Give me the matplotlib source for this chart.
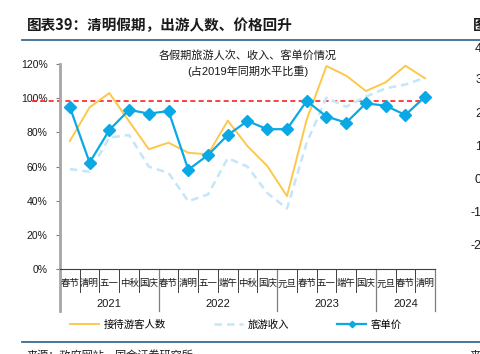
import numpy as np
import matplotlib
matplotlib.use('Agg')
import matplotlib.pyplot as plt
from matplotlib.lines import Line2D

plt.rcParams['font.family'] = ['Liberation Sans', 'Noto Sans CJK SC', 'DejaVu Sans']

# data (share of the same holiday in 2019)
holidays = ['春节', '清明', '五一', '中秋', '国庆',
            '春节', '清明', '五一', '端午', '中秋', '国庆',
            '元旦', '春节', '五一', '端午', '国庆',
            '元旦', '春节', '清明']
years = ['2021', '2022', '2023', '2024']
year_counts = [5, 6, 5, 3]

visitors = [75.0, 94.7, 103.0, 86.5, 70.2, 74.0, 68.1, 67.2, 86.9, 72.0,
            60.4, 42.8, 87.5, 118.8, 113.2, 104.2, 109.3, 119.0, 111.6]
revenue = [58.6, 57.0, 77.0, 78.5, 60.0, 56.3, 39.8, 43.8, 65.0, 60.0,
           44.6, 35.5, 74.0, 100.3, 95.0, 100.9, 105.8, 108.0, 112.0]
price = [94.7, 62.4, 81.4, 93.2, 91.0, 92.5, 58.2, 66.8, 78.5, 86.7,
         81.9, 81.9, 98.4, 89.3, 85.7, 97.0, 95.6, 90.2, 100.9]
ref_level = 98.5

W, H = 481, 354
fig = plt.figure(figsize=(W / 100, H / 100), dpi=100)

def fx(px):
    return px / W

def fy(py):
    return 1 - py / H

# report header
fig.text(fx(27), fy(25), '图表39：清明假期，出游人数、价格回升', fontsize=10.5,
         fontweight='bold', color='#1a1a1a', va='center', ha='left',
         family=['Noto Sans CJK SC'])
fig.text(fx(473), fy(25), '图', fontsize=10.5, fontweight='bold', color='#1a1a1a',
         va='center', ha='left', family=['Noto Sans CJK SC'])
fig.add_artist(Line2D([fx(22), 1.0], [fy(40), fy(40)], color='#3c6b8e', lw=1.3))
fig.add_artist(Line2D([fx(22), 1.0], [fy(342), fy(342)], color='#3c6b8e', lw=1.3))
fig.text(fx(27), fy(356), '来源：政府网站，国金证券研究所', fontsize=8, color='#1a1a1a',
         va='center', ha='left', family=['Noto Sans CJK SC'])
fig.text(fx(470), fy(356), '来源', fontsize=8, color='#1a1a1a',
         va='center', ha='left', family=['Noto Sans CJK SC'])

# right-hand neighbour chart ticks (cut off)
for lab, py in zip(['4', '3', '2', '1', '0', '-1', '-2'],
                   [49, 80, 114, 147, 180, 213, 246]):
    fig.text(fx(482), fy(py), lab, fontsize=9, color='#1a1a1a', va='center', ha='right')

ax = fig.add_axes([fx(60), fy(269.3), fx(435) - fx(60), fy(64) - fy(269.3)])
x = np.arange(len(holidays))

ax.plot([-1.92, 18.1], [ref_level, ref_level], color='#ff2020', lw=1.2,
        linestyle=(0, (3, 2)), clip_on=False, zorder=2)
l1, = ax.plot(x, visitors, color='#fdc84a', lw=1.4, zorder=3)
l2, = ax.plot(x, revenue, color='#c3e6fa', lw=1.8, linestyle=(0, (3, 2)), zorder=3)
l3, = ax.plot(x, price, color='#0aa8e4', lw=1.6, marker='D', ms=6.5,
              markeredgecolor='#0aa8e4', zorder=4)

ax.set_xlim(-0.5, len(holidays) - 0.5)
ax.set_ylim(0, 120)
ax.set_yticks(np.arange(0, 121, 20))
ax.set_yticklabels([f'{v}%' for v in range(0, 121, 20)], fontsize=7.5, color='#1a1a1a')
ax.tick_params(axis='y', length=3, width=0.8, color='#7f7f7f', pad=6)
ax.set_xticks([])
for s in ['top', 'right']:
    ax.spines[s].set_visible(False)
ax.spines['left'].set_color('#a6a6a6')
ax.spines['left'].set_linewidth(2)
ax.spines['bottom'].set_color('#404040')
ax.spines['bottom'].set_linewidth(0.8)

ax.text(0.5, 1.068, '各假期旅游人次、收入、客单价情况\n(占2019年同期水平比重)',
        transform=ax.transAxes, ha='center', va='top', fontsize=8,
        linespacing=1.45, color='#1a1a1a')

# category table under the axis
trans = ax.get_xaxis_transform()
cell_h = 22.5 / (269.3 - 64)
year_h = 42 / (269.3 - 64)
for i, name in enumerate(holidays):
    ax.text(i, -14.5 / (269.3 - 64), name, transform=trans, ha='center', va='center',
            fontsize=6.8, color='#1a1a1a', family=['Noto Sans CJK SC'])
for i in range(1, len(holidays)):
    ax.plot([i - 0.5, i - 0.5], [0, -cell_h], transform=trans, color='#404040',
            lw=0.7, clip_on=False)
edges = np.concatenate([[0], np.cumsum(year_counts)]) - 0.5
for k, yr in enumerate(years):
    ax.text((edges[k] + edges[k + 1]) / 2, -34.5 / (269.3 - 64), yr, transform=trans,
            ha='center', va='center', fontsize=8, color='#1a1a1a')
for e in edges[1:]:
    ax.plot([e, e], [0, -year_h], transform=trans, color='#7f7f7f', lw=0.9, clip_on=False)
ax.plot([edges[0], edges[0]], [0, -year_h], transform=trans, color='#a6a6a6', lw=2,
        clip_on=False)

fig.legend([l1, l2, l3], ['接待游客人数', '旅游收入', '客单价'], loc='center',
           bbox_to_anchor=(fx(236), fy(325)), ncol=3, frameon=False,
           prop={'family': ['Noto Sans CJK SC'], 'size': 7.5},
           handlelength=2.8, columnspacing=4.6, handletextpad=0.45, markerscale=0.5)

fig.savefig('out.png', dpi=100)
